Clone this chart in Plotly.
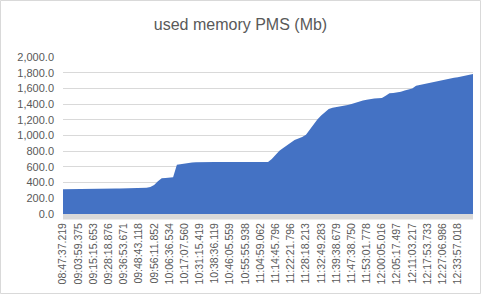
import plotly.graph_objects as go

title_text = "used memory PMS (Mb)"

tick_labels = [
    "08:47:37.219", "09:03:59.375", "09:15:15.653", "09:28:18.876", "09:36:53.671",
    "09:48:43.118", "09:56:11.852", "10:06:36.534", "10:17:07.560", "10:31:15.419",
    "10:38:36.119", "10:46:05.559", "10:55:55.938", "11:04:59.062", "11:14:45.796",
    "11:22:21.796", "11:28:18.213", "11:32:49.283", "11:39:38.679", "11:47:38.750",
    "11:53:01.778", "12:00:05.016", "12:05:17.497", "12:11:03.217", "12:17:53.733",
    "12:27:06.986", "12:33:57.018",
]
label_every = 4

used_memory = [
    315, 315, 316, 316, 318, 318, 319, 319, 320, 321,
    322, 322, 323, 323, 324, 325, 326, 327, 328, 329,
    330, 331, 333, 345, 370, 418, 455, 460, 465, 468,
    628, 636, 642, 652, 656, 658, 660, 664, 660, 661,
    662, 662, 662, 661, 660, 659, 657, 655, 655, 656,
    656, 656, 657, 658, 662, 700, 758, 805, 840, 878,
    915, 942, 962, 980, 1010, 1080, 1145, 1205, 1255, 1300,
    1337, 1352, 1360, 1366, 1378, 1390, 1402, 1418, 1435, 1445,
    1455, 1465, 1470, 1474, 1478, 1505, 1537, 1542, 1548, 1558,
    1572, 1585, 1600, 1635, 1645, 1656, 1665, 1676, 1690, 1703,
    1710, 1718, 1728, 1736, 1743, 1753, 1763, 1774, 1785,
]

y_ticks = [0, 200, 400, 600, 800, 1000, 1200, 1400, 1600, 1800, 2000]
y_tick_text = [f"{v:,.1f}" for v in y_ticks]

x_idx = list(range(len(used_memory)))
tick_pos = [i * label_every for i in range(len(tick_labels))]

W, H = 481, 294
L, R, T, B = 63, 8, 57, 80
pw, ph = W - L - R, H - T - B

fig = go.Figure()
fig.add_trace(go.Scatter(
    x=x_idx, y=used_memory, mode="lines", fill="tozeroy",
    line=dict(width=0, color="#4472C4"), fillcolor="#4472C4",
    hoverinfo="skip", showlegend=False,
))

shapes = [
    # bottom axis band
    dict(type="rect", xref="paper", yref="paper", x0=0, x1=1,
         y0=-5.5 / ph, y1=0, fillcolor="#d9d9d9", line=dict(width=0), layer="above"),
    # chart border
    dict(type="rect", xref="paper", yref="paper",
         x0=(0.5 - L) / pw, x1=(W - 0.5 - L) / pw,
         y0=-(B - 0.5) / ph, y1=(ph + T - 0.5) / ph,
         line=dict(color="#d9d9d9", width=1), fillcolor="rgba(0,0,0,0)"),
]

fig.update_layout(
    width=W, height=H,
    margin=dict(l=L, r=R, t=T, b=B),
    paper_bgcolor="white", plot_bgcolor="white",
    font=dict(family="Liberation Sans, Arial, sans-serif", color="#595959", size=11),
    title=dict(text=title_text, x=0.5, xref="container", xanchor="center",
               y=1 - 24 / H, yref="container", yanchor="middle",
               font=dict(size=16, color="#595959")),
    xaxis=dict(range=[0, len(used_memory) - 1], tickmode="array", tickvals=tick_pos,
               ticktext=tick_labels, tickangle=-90, showgrid=False, zeroline=False,
               showline=False, ticks="", ticklabelstandoff=6,
               tickfont=dict(size=10.5, color="#595959")),
    yaxis=dict(range=[0, 2000], tickmode="array", tickvals=y_ticks, ticktext=y_tick_text,
               showgrid=True, gridcolor="#d9d9d9", gridwidth=1, zeroline=False,
               showline=False, ticks="", ticklabelstandoff=8,
               tickfont=dict(size=11, color="#595959")),
    shapes=shapes,
)

fig.write_html("out.html")
